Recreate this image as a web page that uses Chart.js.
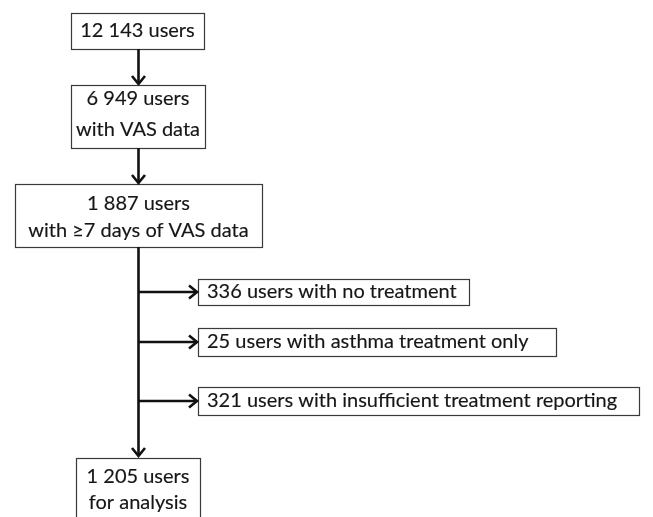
<!DOCTYPE html>
<html><head><meta charset="utf-8">
<script src="https://cdn.jsdelivr.net/npm/chart.js@4/dist/chart.umd.min.js"></script>
<style>html,body{margin:0;padding:0;background:#fff}canvas{display:block}</style>
</head><body>
<canvas id="c" width="653" height="517"></canvas>
<script>
// Flow data
const mainCounts = ["12 143", "6 949", "1 887", "1 205"];
const mainLabels = [["12 143 users"], ["6 949 users", "with VAS data"], ["1 887 users", "with \u22657 days of VAS data"], ["1 205 users", "for analysis"]];
const excludedCounts = ["336", "25", "321"];
const excludedLabels = ["336 users with no treatment", "25 users with asthma treatment only", "321 users with insufficient treatment reporting"];

// Layout (in chart units: x 0..653, y 0..517 top-down)
const mainBoxes = [
  {x0: 71, x1: 204, y0: 13, y1: 49},
  {x0: 71, x1: 205, y0: 85, y1: 148},
  {x0: 15, x1: 262, y0: 184, y1: 247},
  {x0: 76, x1: 200, y0: 458, y1: 530}
];
const mainTextY = [[31], [99, 130], [204, 231], [477, 503]];
const sideBoxes = [
  {x0: 198, x1: 469, y0: 279, y1: 305},
  {x0: 198, x1: 556, y0: 328, y1: 356},
  {x0: 198, x1: 639, y0: 387, y1: 415}
];
const spineX = 138.5;
const FONT = '20px Lato';

const flowPlugin = {
  id: 'flow',
  afterDraw(chart) {
    const ctx = chart.ctx, xs = chart.scales.x, ys = chart.scales.y;
    const px = v => xs.getPixelForValue(v), py = v => ys.getPixelForValue(v);
    ctx.save();
    // boxes
    ctx.strokeStyle = '#3a3a3a'; ctx.lineWidth = 1.2;
    const rect = b => { ctx.strokeRect(px(b.x0) + 0.5, py(b.y0) + 0.5, px(b.x1) - px(b.x0), py(b.y1) - py(b.y0)); };
    mainBoxes.forEach(rect); sideBoxes.forEach(rect);
    // text
    ctx.fillStyle = '#161616'; ctx.strokeStyle = '#161616'; ctx.lineWidth = 0.15;
    ctx.font = FONT; ctx.textBaseline = 'middle';
    const txt = (t, x, y) => { ctx.fillText(t, x, y); ctx.strokeText(t, x, y); };
    ctx.textAlign = 'center';
    mainLabels.forEach((lines, i) => {
      const b = mainBoxes[i], cx = (px(b.x0) + px(b.x1)) / 2;
      lines.forEach((t, j) => txt(t, cx, py(mainTextY[i][j])));
    });
    ctx.textAlign = 'left';
    excludedLabels.forEach((t, i) => {
      const b = sideBoxes[i];
      txt(t, px(b.x0) + 9, py((b.y0 + b.y1) / 2));
    });
    // arrows
    ctx.strokeStyle = '#111'; ctx.lineWidth = 2.6; ctx.lineCap = 'butt';
    const line = (x0, y0, x1, y1) => { ctx.beginPath(); ctx.moveTo(px(x0), py(y0)); ctx.lineTo(px(x1), py(y1)); ctx.stroke(); };
    const headDown = (x, y) => { ctx.beginPath(); ctx.moveTo(px(x) - 6.5, py(y) - 8); ctx.lineTo(px(x), py(y)); ctx.lineTo(px(x) + 6.5, py(y) - 8); ctx.stroke(); };
    const headRight = (x, y) => { ctx.beginPath(); ctx.moveTo(px(x) - 8, py(y) - 6.5); ctx.lineTo(px(x), py(y)); ctx.lineTo(px(x) - 8, py(y) + 6.5); ctx.stroke(); };
    line(spineX, 49, spineX, 84); headDown(spineX, 84);
    line(spineX, 148, spineX, 183); headDown(spineX, 183);
    line(spineX, 247, spineX, 456); headDown(spineX, 456);
    sideBoxes.forEach(b => { const y = (b.y0 + b.y1) / 2; line(spineX, y, b.x0 - 1, y); headRight(b.x0 - 1, y); });
    ctx.restore();
  }
};

new Chart(document.getElementById('c'), {
  type: 'scatter',
  data: { datasets: [{ data: [], pointRadius: 0 }] },
  options: {
    responsive: false, animation: false,
    layout: { padding: 0 },
    plugins: { legend: { display: false }, tooltip: { enabled: false } },
    scales: {
      x: { type: 'linear', min: 0, max: 653, display: false },
      y: { type: 'linear', min: 0, max: 517, reverse: true, display: false }
    }
  },
  plugins: [flowPlugin]
});
</script>
</body></html>
